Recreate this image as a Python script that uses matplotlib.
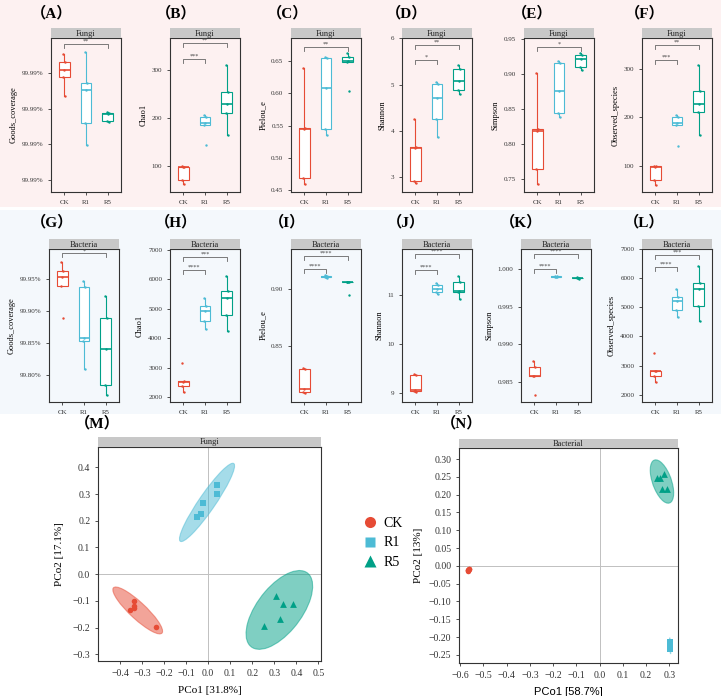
import numpy as np
import matplotlib
matplotlib.use('Agg')
import matplotlib.pyplot as plt
from matplotlib.patches import Rectangle, Ellipse
from matplotlib.lines import Line2D

W, H = 721, 696
groups = ['CK', 'R1', 'R5']
cols = ['#E64B35', '#4DBBD5', '#00A087']

# ---- alpha diversity, fungi (5 samples per group: CK, R1, R5) ----
f_goods = [[99.99577, 99.99565, 99.99554, 99.99544, 99.99518],
           [99.99579, 99.99536, 99.99526, 99.99480, 99.99449],
           [99.99495, 99.99494, 99.99492, 99.99483, 99.99481]]
f_chao1 = [[101, 99, 98, 71, 63],
           [206, 202, 190, 186, 144],
           [310, 255, 229, 210, 165]]
f_pielou = [[0.640, 0.547, 0.544, 0.468, 0.459],
            [0.656, 0.655, 0.609, 0.545, 0.536],
            [0.662, 0.656, 0.651, 0.648, 0.603]]
f_shannon = [[4.25, 3.66, 3.64, 2.91, 2.87],
             [5.05, 5.01, 4.72, 4.25, 3.88],
             [5.43, 5.34, 5.07, 4.89, 4.79]]
f_simpson = [[0.901, 0.821, 0.819, 0.765, 0.744],
             [0.918, 0.916, 0.876, 0.844, 0.838],
             [0.930, 0.927, 0.921, 0.910, 0.906]]
f_obs = [[100, 99, 98, 70, 61],
         [205, 201, 188, 185, 141],
         [308, 254, 228, 210, 164]]

# ---- alpha diversity, bacteria ----
b_goods = [[99.976, 99.962, 99.953, 99.939, 99.889],
           [99.947, 99.937, 99.858, 99.853, 99.810],
           [99.924, 99.889, 99.841, 99.785, 99.769]]
b_chao1 = [[3160, 2550, 2520, 2370, 2170],
           [5370, 5090, 4930, 4590, 4320],
           [6120, 5600, 5370, 4780, 4240]]
b_pielou = [[0.831, 0.830, 0.812, 0.810, 0.809],
            [0.9120, 0.9112, 0.9108, 0.9104, 0.9100],
            [0.9065, 0.9063, 0.9060, 0.9058, 0.8950]]
b_shannon = [[9.40, 9.38, 9.06, 9.04, 9.02],
             [11.25, 11.20, 11.13, 11.07, 11.02],
             [11.39, 11.27, 11.09, 11.07, 10.92]]
b_simpson = [[0.9878, 0.9870, 0.9858, 0.9857, 0.9832],
             [0.99910, 0.99905, 0.99900, 0.99895, 0.99890],
             [0.99893, 0.99888, 0.99884, 0.99880, 0.99875]]
b_obs = [[3440, 2830, 2800, 2640, 2440],
         [5630, 5370, 5200, 4910, 4650],
         [6420, 5850, 5620, 5040, 4530]]

# ---- PCoA coordinates ----
m_ck_x = [-0.355, -0.337, -0.335, -0.335, -0.237]
m_ck_y = [-0.135, -0.100, -0.120, -0.127, -0.197]
m_r1_x = [-0.050, -0.033, -0.025, 0.040, 0.042]
m_r1_y = [0.213, 0.227, 0.268, 0.335, 0.300]
m_r5_x = [0.310, 0.340, 0.385, 0.325, 0.255]
m_r5_y = [-0.083, -0.113, -0.110, -0.168, -0.195]

n_ck_x = [-0.568, -0.566, -0.563, -0.561, -0.565]
n_ck_y = [-0.015, -0.013, -0.010, -0.008, -0.012]
n_r1_x = [0.302, 0.303, 0.304, 0.303, 0.304]
n_r1_y = [-0.215, -0.220, -0.225, -0.230, -0.234]
n_r5_x = [0.245, 0.260, 0.275, 0.270, 0.290]
n_r5_y = [0.248, 0.248, 0.258, 0.215, 0.215]

plt.rcParams.update({
    'font.family': ['Liberation Serif', 'Noto Sans CJK SC'],
    'axes.edgecolor': '#333333',
    'axes.linewidth': 0.8,
    'xtick.color': '#333333',
    'ytick.color': '#333333',
    'xtick.major.size': 2,
    'ytick.major.size': 2,
    'xtick.major.width': 0.6,
    'ytick.major.width': 0.6,
})

pink = '#fdf1f1'
blue = '#f4f8fc'


def rect(x0, y0, x1, y1):
    return [x0 / W, 1 - y1 / H, (x1 - x0) / W, (y1 - y0) / H]


fig = plt.figure(figsize=(W / 100, H / 100), dpi=100)
fig.patches.append(Rectangle((0, 1 - 207 / H), 1, 207 / H, transform=fig.transFigure,
                             facecolor=pink, edgecolor='none', zorder=-5))
fig.patches.append(Rectangle((0, 1 - 414 / H), 1, 204 / H, transform=fig.transFigure,
                             facecolor=blue, edgecolor='none', zorder=-5))


def strip(x0, y0, x1, y1, txt, fs=6):
    s = fig.add_axes(rect(x0, y0, x1, y1))
    s.set_facecolor('#c8c8c8')
    s.set_xticks([]); s.set_yticks([])
    for sp in s.spines.values():
        sp.set_visible(False)
    s.text(0.5, 0.45, txt, ha='center', va='center', fontsize=fs, color='#222222')


jit = [-0.04, 0.05, 0.0, -0.06, 0.03]

panels = [
    ('A', f_goods, 'Goods_coverage', 'Fungi', (99.99383, 99.99599),
     [99.9940, 99.9945, 99.9950, 99.9955], lambda v: '99.99%', [(0, 2, 99.99590, '**')]),
    ('B', f_chao1, 'Chao1', 'Fungi', (46, 367), [100, 200, 300], lambda v: '%d' % v,
     [(0, 2, 356, '**'), (0, 1, 323, '***')]),
    ('C', f_pielou, 'Pielou_e', 'Fungi', (0.447, 0.686), [0.45, 0.50, 0.55, 0.60, 0.65],
     lambda v: '%.2f' % v, [(0, 2, 0.672, '**')]),
    ('D', f_shannon, 'Shannon', 'Fungi', (2.68, 6.01), [3, 4, 5, 6], lambda v: '%d' % v,
     [(0, 2, 5.86, '**'), (0, 1, 5.53, '*')]),
    ('E', f_simpson, 'Simpson', 'Fungi', (0.732, 0.951), [0.75, 0.80, 0.85, 0.90, 0.95],
     lambda v: '%.2f' % v, [(0, 2, 0.938, '*')]),
    ('F', f_obs, 'Observed_species', 'Fungi', (45.5, 364), [100, 200, 300], lambda v: '%d' % v,
     [(0, 2, 349, '**'), (0, 1, 319, '***')]),
    ('G', b_goods, 'Goods_coverage', 'Bacteria', (99.758, 99.997),
     [99.80, 99.85, 99.90, 99.95], lambda v: '%.2f%%' % v, [(0, 2, 99.990, '*')]),
    ('H', b_chao1, 'Chao1', 'Bacteria', (1830, 7030), [2000, 3000, 4000, 5000, 6000, 7000],
     lambda v: '%d' % v, [(0, 2, 6770, '***'), (0, 1, 6320, '****')]),
    ('I', b_pielou, 'Pielou_e', 'Bacteria', (0.801, 0.935), [0.85, 0.90],
     lambda v: '%.2f' % v, [(0, 2, 0.929, '****'), (0, 1, 0.9175, '****')]),
    ('J', b_shannon, 'Shannon', 'Bacteria', (8.82, 11.94), [9, 10, 11], lambda v: '%d' % v,
     [(0, 2, 11.83, '****'), (0, 1, 11.52, '****')]),
    ('K', b_simpson, 'Simpson', 'Bacteria', (0.9823, 1.0027), [0.985, 0.990, 0.995, 1.000],
     lambda v: '%.3f' % v, [(0, 2, 1.0020, '****'), (0, 1, 1.0000, '****')]),
    ('L', b_obs, 'Observed_species', 'Bacteria', (1750, 7000), [2000, 3000, 4000, 5000, 6000, 7000],
     lambda v: '%d' % v, [(0, 2, 6780, '***'), (0, 1, 6390, '****')]),
]

lefts = [51, 170, 291, 402, 524, 642, 49, 170, 291, 402, 521, 642]
lab_x = [52, 176, 288, 407, 532, 645, 52, 176, 287, 406, 521, 644]
rows = [(38, 192, 28, 13), (249, 402, 239, 222)]

for k, (tag, data, ylab, stxt, ylim, ticks, fmt, brs) in enumerate(panels):
    top, bot, stop, ly = rows[k // 6]
    x0 = lefts[k]
    ax = fig.add_axes(rect(x0, top, x0 + 70, bot))
    ax.set_facecolor('none')
    strip(x0, stop, x0 + 70, top, stxt)
    fig.text(lab_x[k] / W, 1 - ly / H, '（%s）' % tag, ha='center', va='center',
             fontsize=11, fontweight='bold')

    bp = ax.boxplot(data, positions=[1, 2, 3], widths=0.5, patch_artist=True,
                    showcaps=False, showfliers=False, whis=1.5)
    for i, c in enumerate(cols):
        bp['boxes'][i].set(facecolor='white', edgecolor=c, linewidth=0.8)
        bp['medians'][i].set(color=c, linewidth=1.2)
        bp['whiskers'][2 * i].set(color=c, linewidth=0.8)
        bp['whiskers'][2 * i + 1].set(color=c, linewidth=0.8)
        ax.scatter(np.array(jit) + i + 1, data[i], s=3, color=c, zorder=3, linewidths=0)

    rng = ylim[1] - ylim[0]
    for i, j, yb, lab in brs:
        d = 0.026 * rng
        ax.plot([i + 1, i + 1, j + 1, j + 1], [yb - d, yb, yb, yb - d], color='#666666', lw=0.6)
        ax.text((i + j) / 2 + 1, yb + 0.002 * rng, lab, ha='center', va='bottom',
                fontsize=4.5, color='#444444')

    ax.set_xlim(0.4, 3.6)
    ax.set_ylim(*ylim)
    ax.set_xticks([1, 2, 3])
    ax.set_xticklabels(groups, fontsize=5)
    ax.set_yticks(ticks)
    ax.set_yticklabels([fmt(v) for v in ticks], fontsize=5)
    ax.set_ylabel(ylab, fontsize=6, labelpad=3)


def conf_ellipse(ax, x, y, c, scale):
    x = np.asarray(x); y = np.asarray(y)
    cov = np.cov(x, y)
    vals, vecs = np.linalg.eigh(cov)
    ang = np.degrees(np.arctan2(vecs[1, 1], vecs[0, 1]))
    e = Ellipse((x.mean(), y.mean()), 2 * scale * np.sqrt(vals[1]), 2 * scale * np.sqrt(vals[0]),
                angle=ang, facecolor=c, edgecolor=c, alpha=0.5, lw=0.8, zorder=1)
    ax.add_patch(e)


def minus(s):
    return s.replace('-', '\u2212')


def pcoa(ax, pts, scales, xlim, ylim, xt, yt, xf, yf):
    ax.axhline(0, color='#c0c0c0', lw=0.7, zorder=0)
    ax.axvline(0, color='#c0c0c0', lw=0.7, zorder=0)
    marks = ['o', 's', '^']
    sizes = [16, 14, 24]
    for (x, y), c, m, s, sc in zip(pts, cols, marks, sizes, scales):
        conf_ellipse(ax, x, y, c, sc)
        ax.scatter(x, y, marker=m, s=s, color=c, zorder=3, linewidths=0)
    ax.set_xlim(*xlim); ax.set_ylim(*ylim)
    ax.set_xticks(xt); ax.set_yticks(yt)
    ax.set_xticklabels([minus(xf % v) if abs(v) > 1e-9 else xf % 0 for v in xt], fontsize=7)
    ax.set_yticklabels([minus(yf % v) if abs(v) > 1e-9 else yf % 0 for v in yt], fontsize=7)


# (M) fungi PCoA
axm = fig.add_axes(rect(98, 447, 321, 661))
strip(98, 437, 321, 447, 'Fungi')
fig.text(97 / W, 1 - 423 / H, '（M）', ha='center', va='center', fontsize=11, fontweight='bold')
pcoa(axm, [(m_ck_x, m_ck_y), (m_r1_x, m_r1_y), (m_r5_x, m_r5_y)], [2.4, 2.9, 3.2],
     (-0.50, 0.512), (-0.325, 0.476),
     np.round(np.arange(-0.4, 0.51, 0.1), 2), np.round(np.arange(-0.3, 0.41, 0.1), 2), '%.1f', '%.1f')
axm.set_xlabel('PCo1 [31.8%]', fontsize=8, labelpad=6)
axm.set_ylabel('PCo2 [17.1%]', fontsize=8, labelpad=6)

# (N) bacteria PCoA
axn = fig.add_axes(rect(459, 448, 678, 663))
strip(459, 439, 678, 448, 'Bacterial')
fig.text(462 / W, 1 - 423 / H, '（N）', ha='center', va='center', fontsize=11, fontweight='bold')
pcoa(axn, [(n_ck_x, n_ck_y), (n_r1_x, n_r1_y), (n_r5_x, n_r5_y)], [3.0, 3.0, 3.0],
     (-0.605, 0.337), (-0.273, 0.331),
     np.round(np.arange(-0.6, 0.31, 0.1), 2), np.round(np.arange(-0.25, 0.31, 0.05), 2), '%.1f', '%.2f')
axn.set_xlabel('PCo1 [58.7%]', fontsize=8, labelpad=5, family='Liberation Sans')
axn.set_ylabel('PCo2 [13%]', fontsize=8, labelpad=4)

handles = [Line2D([0], [0], marker=m, color='none', markerfacecolor=c, markeredgecolor='none',
                  markersize=ms, label=g)
           for m, c, ms, g in zip(['o', 's', '^'], cols, [8, 7, 9], groups)]
fig.legend(handles=handles, loc='center left', bbox_to_anchor=(357 / W, 1 - 543 / H),
           frameon=False, fontsize=10, handlelength=0.8, handletextpad=0.6,
           labelspacing=0.45, borderpad=0)

fig.savefig('out.png', dpi=100)
plt.close()
